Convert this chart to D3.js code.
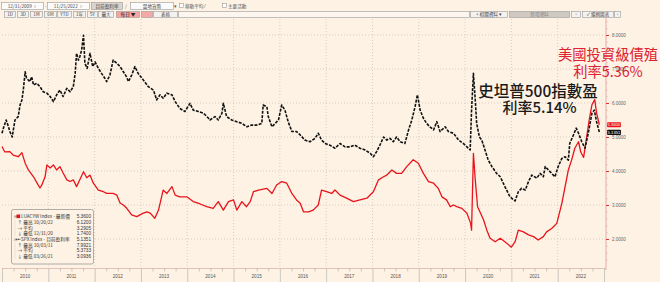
<!DOCTYPE html>
<html><head><meta charset="utf-8">
<script src="https://cdn.jsdelivr.net/npm/d3@7"></script>
<style>
html,body{margin:0;padding:0;background:#fdf2e4;overflow:hidden;}
svg{display:block;}
</style></head>
<body>
<svg id="c" width="660" height="282"></svg>
<script>
// ---------- DATA ----------
const yearTicks = [2010,2011,2012,2013,2014,2015,2016,2017,2018,2019,2020,2021,2022,2023];
const yearLabels = ["2010","2011","2012","2013","2014","2015","2016","2017","2018","2019","2020","2021","2022"];
const valueTicks = [2,3,4,5,6,7,8];

// LUACYW Index (US IG corporate yield), decimal years
const luacywDates = [2010.00,2010.06,2010.17,2010.24,2010.35,2010.43,2010.50,2010.57,2010.68,2010.78,2010.82,2010.86,2010.93,2010.97,
2011.04,2011.11,2011.18,2011.25,2011.32,2011.40,2011.47,2011.54,2011.61,2011.68,2011.76,2011.83,2011.90,2011.97,
2012.08,2012.19,2012.26,2012.40,2012.48,2012.55,2012.62,2012.69,2012.80,2012.91,
2013.05,2013.13,2013.20,2013.30,2013.38,2013.48,2013.56,2013.67,2013.74,2013.84,2013.99,
2014.13,2014.28,2014.42,2014.56,2014.67,2014.78,2014.89,
2015.00,2015.07,2015.18,2015.28,2015.36,2015.43,2015.54,2015.72,2015.83,2015.93,
2016.04,2016.15,2016.26,2016.36,2016.44,2016.51,2016.62,2016.72,2016.83,2016.90,
2017.01,2017.12,2017.19,2017.30,2017.44,2017.59,2017.73,2017.88,
2018.02,2018.13,2018.24,2018.31,2018.42,2018.52,2018.63,2018.74,2018.88,2018.99,
2019.10,2019.21,2019.32,2019.42,2019.50,2019.60,2019.68,2019.75,2019.82,2019.93,
2020.04,2020.12,2020.14,2020.18,2020.22,2020.27,2020.32,2020.40,2020.47,2020.54,2020.65,2020.76,2020.86,2021.00,
2021.08,2021.15,2021.26,2021.37,2021.48,2021.58,2021.69,2021.76,2021.87,2021.98,
2022.09,2022.16,2022.23,2022.30,2022.37,2022.45,2022.50,2022.56,2022.62,2022.68,2022.74,2022.80,2022.84,2022.90];
const luacywYields = [4.72,4.56,4.57,4.47,4.42,4.54,4.23,4.03,3.83,3.59,3.50,3.59,3.83,4.18,
4.09,4.18,4.03,4.13,3.94,3.74,3.69,3.74,3.54,3.74,3.98,3.80,3.88,3.65,
3.44,3.39,3.34,3.34,3.29,3.06,3.00,2.91,2.71,2.66,
2.76,2.80,2.76,2.61,2.85,3.44,3.34,3.54,3.29,3.24,3.24,
3.10,3.03,2.95,2.90,3.10,2.85,3.10,
3.15,2.85,3.10,2.95,3.10,3.39,3.44,3.49,3.34,3.59,
3.69,3.64,3.34,3.15,3.05,2.80,2.80,2.85,3.00,3.44,
3.39,3.34,3.44,3.29,3.20,3.10,3.15,3.20,
3.39,3.74,3.83,3.88,4.03,3.93,3.93,4.13,4.33,4.23,
3.93,3.69,3.64,3.49,3.24,3.15,2.95,3.00,2.95,2.90,
2.76,2.46,2.26,4.52,3.74,2.95,2.80,2.56,2.26,2.02,1.92,2.02,1.92,1.76,
1.92,2.26,2.21,2.12,2.07,1.97,2.07,2.21,2.31,2.46,
3.05,3.54,4.03,4.32,4.67,4.86,4.55,4.40,4.95,5.50,5.95,6.10,5.70,5.36];

// SPX Index earnings yield, decimal years
const spxDates = [2010.00,2010.03,2010.09,2010.14,2010.17,2010.22,2010.28,2010.35,2010.39,2010.43,2010.46,2010.50,2010.53,2010.60,2010.64,2010.68,2010.75,2010.82,2010.89,2010.97,
2011.04,2011.11,2011.18,2011.25,2011.32,2011.40,2011.47,2011.54,2011.58,2011.61,2011.65,2011.68,2011.72,2011.76,2011.79,2011.84,2011.90,2011.96,
2012.01,2012.08,2012.15,2012.22,2012.26,2012.33,2012.40,2012.48,2012.55,2012.62,2012.69,2012.73,2012.80,2012.87,2012.94,
2013.05,2013.16,2013.27,2013.34,2013.41,2013.48,2013.56,2013.67,2013.74,2013.84,2013.95,
2014.06,2014.13,2014.24,2014.35,2014.46,2014.49,2014.60,2014.67,2014.75,2014.78,2014.85,2014.96,
2015.07,2015.18,2015.29,2015.39,2015.50,2015.61,2015.64,2015.72,2015.75,2015.83,2015.90,2015.97,
2016.04,2016.11,2016.18,2016.26,2016.36,2016.44,2016.54,2016.65,2016.76,2016.83,2016.90,2016.98,
2017.08,2017.19,2017.30,2017.41,2017.52,2017.62,2017.73,2017.84,2017.95,
2018.02,2018.09,2018.16,2018.24,2018.31,2018.38,2018.45,2018.52,2018.60,2018.70,2018.78,2018.85,2018.92,2018.97,
2019.03,2019.10,2019.17,2019.24,2019.32,2019.39,2019.46,2019.57,2019.64,2019.75,2019.86,2019.96,
2020.04,2020.11,2020.14,2020.18,2020.22,2020.25,2020.31,2020.36,2020.43,2020.50,2020.58,2020.68,2020.76,2020.86,2020.97,
2021.08,2021.15,2021.22,2021.30,2021.37,2021.44,2021.55,2021.62,2021.69,2021.73,2021.80,2021.87,2021.94,
2022.01,2022.09,2022.16,2022.23,2022.26,2022.34,2022.40,2022.45,2022.52,2022.59,2022.66,2022.74,2022.79,2022.84,2022.90];
const spxYields = [5.11,5.26,5.50,5.30,5.16,5.00,5.50,5.60,5.94,6.09,6.38,6.92,6.73,6.63,6.77,6.53,6.58,6.48,6.33,6.29,
6.19,6.04,6.24,6.38,6.19,6.43,6.33,6.48,6.87,7.46,7.26,7.36,7.56,7.99,7.17,7.02,7.46,7.07,
7.21,7.02,6.87,6.73,6.63,6.82,7.26,7.17,7.07,6.92,6.77,6.63,6.82,7.07,6.87,
6.68,6.48,6.38,6.09,6.24,6.14,6.29,6.24,6.04,5.84,5.75,
5.99,5.79,5.75,5.70,5.55,5.50,5.60,5.50,5.70,5.99,5.60,5.50,
5.45,5.40,5.30,5.35,5.35,5.40,5.94,5.89,5.60,5.30,5.40,5.50,
5.94,5.79,5.45,5.16,5.16,5.06,4.91,4.86,4.96,5.11,4.91,4.81,
4.76,4.67,4.81,4.71,4.71,4.76,4.67,4.62,4.52,
4.42,4.57,4.76,5.00,4.91,4.96,4.86,5.00,4.86,4.81,5.21,5.50,5.89,6.24,
5.79,5.55,5.40,5.30,5.21,5.45,5.16,5.30,5.16,5.11,4.91,4.81,
4.71,4.62,5.79,6.87,6.09,5.40,5.00,4.91,4.62,4.32,4.13,3.93,3.83,3.54,3.24,
3.12,3.39,3.49,3.44,3.69,3.88,3.79,3.93,3.83,4.13,4.03,3.93,3.83,
4.13,4.37,4.42,4.32,4.81,5.06,5.26,5.11,4.86,4.67,5.11,5.70,5.79,5.45,5.14];

const legendNames = ["LUACYW Index - 最新價","↑ 最高 10/20/22","→ 平均","↓ 最低 12/31/20",
                     "SPX Index - 目前盈利率","↑ 最高 10/03/11","→ 平均","↓ 最低 03/26/21"];
const legendValues = ["5.3600","6.1200","3.2905","1.7400","5.1351","7.9921","5.3733","3.0936"];
const lastValues = [5.36, 5.1351];
const lastLabels = ["5.3600","5.1351"];
const redNote = ["美國投資級債殖","利率5.36%"];
const blackNote = ["史坦普500指數盈","利率5.14%"];

// ---------- CHART ----------
const svg = d3.select("#c");
const RED = "#e8141c";
const FONT = "'Liberation Sans','DejaVu Sans',sans-serif";
const CJK = "'Noto Sans CJK TC','Noto Sans CJK SC',sans-serif";

const x = d3.scaleLinear().domain([2010, 2023]).range([2, 604]);
const y = d3.scaleLinear().domain([2, 8]).range([239, 35]);

// toolbar
const tb = svg.append("g").attr("font-family", CJK).attr("font-size", 4.6).attr("fill", "#555");
function box(x0, y0, w, h, fill, label, tcol) {
  tb.append("rect").attr("x", x0 + .5).attr("y", y0 + .5).attr("width", w).attr("height", h)
    .attr("fill", fill).attr("stroke", "#9a9a9a").attr("stroke-width", .6);
  if (label) tb.append("text").attr("x", x0 + w / 2 + .5).attr("y", y0 + h / 2 + 2).attr("text-anchor", "middle")
    .attr("fill", tcol || "#444").text(label);
}
box(1, 2, 42, 7, "#fbfbfb", "12/31/2009 ▫");
tb.append("text").attr("x", 45).attr("y", 7.5).text("-");
box(47, 2, 42, 7, "#fbfbfb", "11/25/2022 ▫");
box(91, 2, 31, 7, "#d9d4ce", "目前盈利率");
tb.append("text").attr("x", 125).attr("y", 8).text("/");
box(130, 2, 43, 7, "#fbfbfb", "當地貨幣");
tb.append("text").attr("x", 174).attr("y", 8).text("▾");
box(179, 3, 4, 4, "#fff");
tb.append("text").attr("x", 185).attr("y", 7.8).text("移動平均 ⁄");
box(222, 3, 4, 4, "#fff");
tb.append("text").attr("x", 228).attr("y", 7.8).text("主要活動");
box(4, 11, 11, 6, "#f4f2f0", "1D");
box(17, 11, 11, 6, "#f4f2f0", "3D");
box(30, 11, 12, 6, "#f4f2f0", "1M");
box(44, 11, 12, 6, "#f4f2f0", "6M");
box(57, 11, 14, 6, "#f4f2f0", "YTD");
box(73, 11, 12, 6, "#f4f2f0", "1年");
box(87, 11, 10, 6, "#f4f2f0", "5Y");
box(98, 11, 15, 6, "#f4f2f0", "最大");
box(116, 11, 23, 6, "#f5a3a3", "每日 ▼", "#222");
box(141, 11, 11, 6, "#f5a8a8");
box(153, 11, 24, 6, "#f4f2f0", "表格");
box(178, 11, 291, 6, "#fdf6ee");
box(470, 11, 37, 6, "#f4f2f0", "+ 相關資料 ▾");
box(509, 11, 60, 6, "#cfc9c2", "新增資料", "#888");
box(571, 11, 9, 6, "#f4f2f0", "◦");
box(582, 11, 31, 6, "#f4f2f0", "✓ 編輯圖表");
box(614, 11, 6, 6, "#f4f2f0", "◦");

// gridlines
const grid = svg.append("g").attr("stroke", "#c9bfb4").attr("stroke-width", .7).attr("stroke-dasharray", "1,2");
grid.selectAll("line.h").data(valueTicks).join("line").attr("class", "h")
  .attr("x1", 2).attr("x2", 604).attr("y1", d => y(d)).attr("y2", d => y(d));
grid.selectAll("line.v").data(yearTicks.slice(1, -1)).join("line").attr("class", "v")
  .attr("x1", d => x(d)).attr("x2", d => x(d)).attr("y1", 19).attr("y2", 268);

// series
const line = d3.line().x(d => x(d[0])).y(d => y(d[1]));
svg.append("path").datum(d3.zip(luacywDates, luacywYields)).attr("d", line)
  .attr("fill", "none").attr("stroke", RED).attr("stroke-width", 1.3).attr("stroke-linejoin", "round");
svg.append("path").datum(d3.zip(spxDates, spxYields)).attr("d", line)
  .attr("fill", "none").attr("stroke", "#111").attr("stroke-width", 1.6)
  .attr("stroke-dasharray", "3,1.3").attr("stroke-linejoin", "round");

// x axis
svg.append("line").attr("x1", 2).attr("x2", 606).attr("y1", 268.5).attr("y2", 268.5)
  .attr("stroke", "#dcb5ad").attr("stroke-width", .8);
const xa = svg.append("g").attr("transform", "translate(0,268.5)");
xa.call(d3.axisBottom(x).tickValues(yearTicks).tickSize(14).tickFormat(""));
const quarters = d3.range(2010, 2023, 0.25).filter(q => q % 1 !== 0);
xa.append("g").call(d3.axisBottom(x).tickValues(quarters).tickSize(3).tickFormat(""));
xa.selectAll(".domain").remove();
xa.selectAll(".tick line").attr("stroke", "#aaa").attr("stroke-width", .6);
svg.append("g").selectAll("text").data(yearLabels).join("text")
  .attr("x", d => x(+d + 0.5)).attr("y", 277.5).attr("text-anchor", "middle")
  .attr("font-family", FONT).attr("font-size", 4.6).attr("fill", "#555").text(d => d);

// right axis
svg.append("line").attr("x1", 606).attr("x2", 606).attr("y1", 13).attr("y2", 270)
  .attr("stroke", "#e7a9a9").attr("stroke-width", 1);
const minorY = d3.range(1.4, 8.41, 0.2).filter(v => Math.abs(v - Math.round(v)) > 0.01);
svg.append("g").attr("transform", "translate(606,0)")
  .call(d3.axisRight(y).tickValues(minorY).tickSize(2).tickFormat(""))
  .call(g => g.select(".domain").remove())
  .call(g => g.selectAll(".tick line").attr("stroke", "#d9b0b0").attr("stroke-width", .5));
const ya = svg.append("g").attr("transform", "translate(606,0)")
  .call(d3.axisRight(y).tickValues(valueTicks).tickSize(3).tickPadding(3).tickFormat(d3.format(".4f")));
ya.select(".domain").remove();
ya.selectAll(".tick line").attr("stroke", RED).attr("stroke-width", .9);
ya.selectAll(".tick text").attr("font-family", FONT).attr("font-size", 4.5).attr("fill", "#666");

// last value tags
const tagCols = [RED, "#111"];
lastValues.forEach((v, i) => {
  svg.append("rect").attr("x", 607).attr("y", y(v) - 2.6).attr("width", 14).attr("height", 5.2)
    .attr("rx", 1).attr("fill", tagCols[i]);
  svg.append("text").attr("x", 614).attr("y", y(v) + 1.6).attr("text-anchor", "middle")
    .attr("font-family", FONT).attr("font-size", 4.2).attr("fill", "#fff").text(lastLabels[i]);
});

// legend
const lg = svg.append("g").attr("font-family", CJK).attr("font-size", 4.7).attr("fill", "#333");
lg.append("rect").attr("x", 11.5).attr("y", 209.5).attr("width", 82).attr("height", 54.5).attr("rx", 2)
  .attr("fill", "#fdf2e4").attr("stroke", "#9d9a96").attr("stroke-width", .8);
legendNames.forEach((n, i) => {
  const yy = 216.5 + i * 5.7;
  const head = (i === 0 || i === 4);
  if (head) {
    lg.append("text").attr("x", 13.5).attr("y", yy + 1.6).attr("font-size", 3.8).attr("fill", "#777").text("⊟");
    if (i === 0) lg.append("rect").attr("x", 16.5).attr("y", yy - 2).attr("width", 3.6).attr("height", 3.6).attr("fill", RED);
    else lg.append("line").attr("x1", 16.3).attr("x2", 20.3).attr("y1", yy).attr("y2", yy)
      .attr("stroke", "#111").attr("stroke-width", 1).attr("stroke-dasharray", "1,.6");
  } else {
    lg.append("line").attr("x1", 15).attr("x2", 15).attr("y1", yy - 2.6).attr("y2", yy + 2.6)
      .attr("stroke", "#aaa").attr("stroke-width", .4).attr("stroke-dasharray", ".6,.6");
  }
  lg.append("text").attr("x", head ? 21 : 17.5).attr("y", yy + 1.6).text(n);
  lg.append("text").attr("x", 91).attr("y", yy + 1.6).attr("text-anchor", "end")
    .attr("font-family", FONT).text(legendValues[i]);
});

// annotations
const an = svg.append("g").attr("font-family", CJK).attr("text-anchor", "middle");
an.append("text").attr("x", 608).attr("y", 59.5).attr("font-size", 14.3).attr("fill", "#dd2231").text(redNote[0]);
an.append("text").attr("x", 608).attr("y", 77).attr("font-size", 14.3).attr("fill", "#dd2231").text(redNote[1]);
an.append("text").attr("x", 538).attr("y", 97).attr("font-size", 15.5).attr("font-weight", 500).attr("fill", "#1a1a1a").text(blackNote[0]);
an.append("text").attr("x", 539.5).attr("y", 113).attr("font-size", 15).attr("font-weight", 500).attr("fill", "#1a1a1a").text(blackNote[1]);
</script>
</body></html>
